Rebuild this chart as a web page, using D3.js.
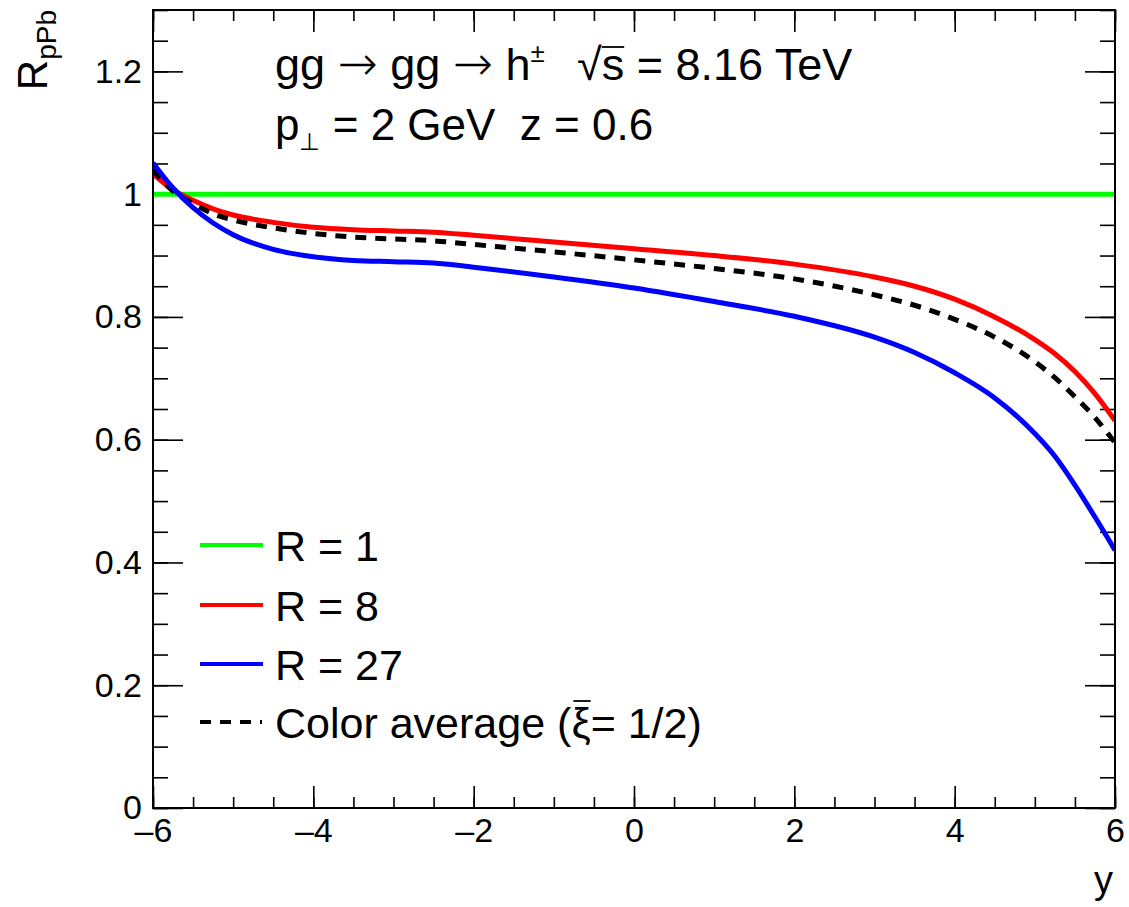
<!DOCTYPE html>
<html>
<head>
<meta charset="utf-8">
<script src="https://cdn.jsdelivr.net/npm/d3@7"></script>
<style>
  body { margin: 0; background: #fff; }
  svg { font-family: 'Liberation Sans', Arial, Helvetica, sans-serif; }
  text { white-space: pre; }
</style>
</head>
<body>
<svg width="1129" height="907"></svg>
<script>
// rapidity points
const rapidity = [-6, -5.75, -5.5, -5.25, -5, -4.5, -4, -3.5, -3, -2.5, -2, -1, 0, 1, 2, 3, 3.5, 4, 4.5, 5, 5.25, 5.5, 5.75, 6];
const ratioR1 = [1, 1, 1, 1, 1, 1, 1, 1, 1, 1, 1, 1, 1, 1, 1, 1, 1, 1, 1, 1, 1, 1, 1, 1];
const ratioR8 = [1.033, 1.007, 0.990, 0.976, 0.966, 0.954, 0.946, 0.942, 0.940, 0.938, 0.933, 0.922, 0.911, 0.900, 0.886, 0.865, 0.850, 0.829, 0.800, 0.763, 0.740, 0.711, 0.675, 0.631];
const ratioR27 = [1.051, 1.010, 0.978, 0.953, 0.934, 0.910, 0.898, 0.892, 0.890, 0.888, 0.881, 0.865, 0.847, 0.825, 0.801, 0.767, 0.742, 0.709, 0.668, 0.610, 0.573, 0.526, 0.474, 0.420];
const ratioAvg = [1.040, 1.005, 0.985, 0.968, 0.958, 0.945, 0.936, 0.930, 0.927, 0.924, 0.918, 0.906, 0.893, 0.879, 0.862, 0.836, 0.819, 0.796, 0.767, 0.727, 0.701, 0.670, 0.636, 0.595];

const xMajor = [-6, -4, -2, 0, 2, 4, 6];
const yMajor = [0, 0.2, 0.4, 0.6, 0.8, 1, 1.2];
const legendLabels = ['R = 1', 'R = 8', 'R = 27'];

const svg = d3.select('svg');
const x = d3.scaleLinear().domain([-6, 6]).range([153, 1115]);
const y = d3.scaleLinear().domain([0, 1.3]).range([808, 10]);

const xMinor = d3.range(-6, 6.001, 0.5);
const yMinor = d3.range(0, 1.3001, 0.05);

svg.append('clipPath').attr('id', 'frame')
  .append('rect')
    .attr('x', x(-6)).attr('y', y(1.3))
    .attr('width', x(6) - x(-6)).attr('height', y(0) - y(1.3));

// ticks: bottom / left with labels, top / right without
function ticks(axis, transform) {
  const g = svg.append('g').attr('transform', transform).call(axis);
  g.select('.domain').remove();
  g.selectAll('line').attr('stroke-width', 1.6);
  g.selectAll('text').attr('font-size', 34).attr('fill', '#000').attr('font-family', 'Liberation Sans, Arial, sans-serif');
  return g;
}
ticks(d3.axisBottom(x).tickValues(xMinor).tickSize(-11).tickFormat(''), `translate(0,${y(0)})`);
ticks(d3.axisBottom(x).tickValues(xMajor).tickSize(-22).tickPadding(10).tickFormat(d => d < 0 ? '\u2013' + (-d) : d), `translate(0,${y(0)})`);
ticks(d3.axisTop(x).tickValues(xMinor).tickSize(-11).tickFormat(''), `translate(0,${y(1.3)})`);
ticks(d3.axisTop(x).tickValues(xMajor).tickSize(-22).tickFormat(''), `translate(0,${y(1.3)})`);
ticks(d3.axisLeft(y).tickValues(yMinor).tickSize(-15).tickFormat(''), `translate(${x(-6)},0)`);
ticks(d3.axisLeft(y).tickValues(yMajor).tickSize(-30).tickPadding(11).tickFormat(d => d === 0 || d === 1 ? d : d.toFixed(1)), `translate(${x(-6)},0)`);
ticks(d3.axisRight(y).tickValues(yMinor).tickSize(-15).tickFormat(''), `translate(${x(6)},0)`);
ticks(d3.axisRight(y).tickValues(yMajor).tickSize(-30).tickFormat(''), `translate(${x(6)},0)`);

// curves
const line = d3.line()
  .x(d => x(d[0]))
  .y(d => y(d[1]))
  .curve(d3.curveMonotoneX);

const series = [
  { values: ratioR1, color: '#00ff00', dash: null },
  { values: ratioR8, color: '#ff0000', dash: null },
  { values: ratioAvg, color: '#000000', dash: '11,9' },
  { values: ratioR27, color: '#0000ff', dash: null }
];

svg.append('g')
    .attr('clip-path', 'url(#frame)')
  .selectAll('path')
  .data(series)
  .enter()
  .append('path')
    .attr('d', s => line(rapidity.map((r, i) => [r, s.values[i]])))
    .attr('fill', 'none')
    .attr('stroke', s => s.color)
    .attr('stroke-width', 5)
    .attr('stroke-dasharray', s => s.dash);

// frame
svg.append('rect')
  .attr('x', x(-6)).attr('y', y(1.3))
  .attr('width', x(6) - x(-6)).attr('height', y(0) - y(1.3))
  .attr('fill', 'none').attr('stroke', '#000').attr('stroke-width', 2);

// axis titles
const yTitle = svg.append('text')
  .attr('transform', 'translate(47,10) rotate(-90)')
  .attr('text-anchor', 'end')
  .attr('font-size', 42);
yTitle.append('tspan').text('R');
yTitle.append('tspan').attr('font-size', 28).attr('dy', 9).text('pPb');

svg.append('text')
  .attr('x', 1113).attr('y', 893)
  .attr('text-anchor', 'end')
  .attr('font-size', 38)
  .text('y');

// thin bar over one glyph (ROOT style #bar / #sqrt)
function overbar(tspan, barY, pad) {
  const box = tspan.node().getExtentOfChar(0);
  svg.append('line')
    .attr('x1', box.x - pad).attr('x2', box.x + box.width)
    .attr('y1', barY).attr('y2', barY)
    .attr('stroke', '#000').attr('stroke-width', 1.8);
}

// header text
const arrow = t => t.append('tspan')
  .attr('font-family', 'DejaVu Sans').attr('font-weight', 200)
  .attr('font-size', 48).text('\u2192');
const t1 = svg.append('text').attr('x', 275).attr('y', 80).attr('font-size', 45);
t1.append('tspan').text('gg ');
arrow(t1);
t1.append('tspan').text(' gg ');
arrow(t1);
t1.append('tspan').text(' h');
t1.append('tspan').attr('font-size', 26).attr('dy', -18).text('\u00b1');
t1.append('tspan').attr('x', 577).attr('dy', 18).text('\u221a');
const sqrtArg = t1.append('tspan').text('s');
t1.append('tspan').text(' = 8.16 TeV');
overbar(sqrtArg, 47, 0);

const t2 = svg.append('text').attr('x', 275).attr('y', 140).attr('font-size', 44);
t2.append('tspan').text('p');
t2.append('tspan').attr('font-size', 24).attr('dy', 10).text('\u22a5');
t2.append('tspan').attr('dy', -10).text(' = 2 GeV  z = 0.6');

// legend
const legendY = [545, 605, 664, 722];
const legend = svg.append('g');
series.filter(s => !s.dash).forEach((s, i) => {
  legend.append('line')
    .attr('x1', 200).attr('x2', 263)
    .attr('y1', legendY[i]).attr('y2', legendY[i])
    .attr('stroke', s.color).attr('stroke-width', 4);
  legend.append('text')
    .attr('x', 275).attr('y', legendY[i] + 16)
    .attr('font-size', 43)
    .text(legendLabels[i]);
});
legend.append('line')
  .attr('x1', 200).attr('x2', 262)
  .attr('y1', legendY[3]).attr('y2', legendY[3])
  .attr('stroke', '#000').attr('stroke-width', 4)
  .attr('stroke-dasharray', '11,9');
const avgText = legend.append('text')
  .attr('x', 275).attr('y', legendY[3] + 16)
  .attr('font-size', 43);
avgText.append('tspan').text('Color average (');
const xi = avgText.append('tspan').text('\u03be');
avgText.append('tspan').text('= 1/2)');
overbar(xi, 701, -2);
</script>
</body>
</html>
